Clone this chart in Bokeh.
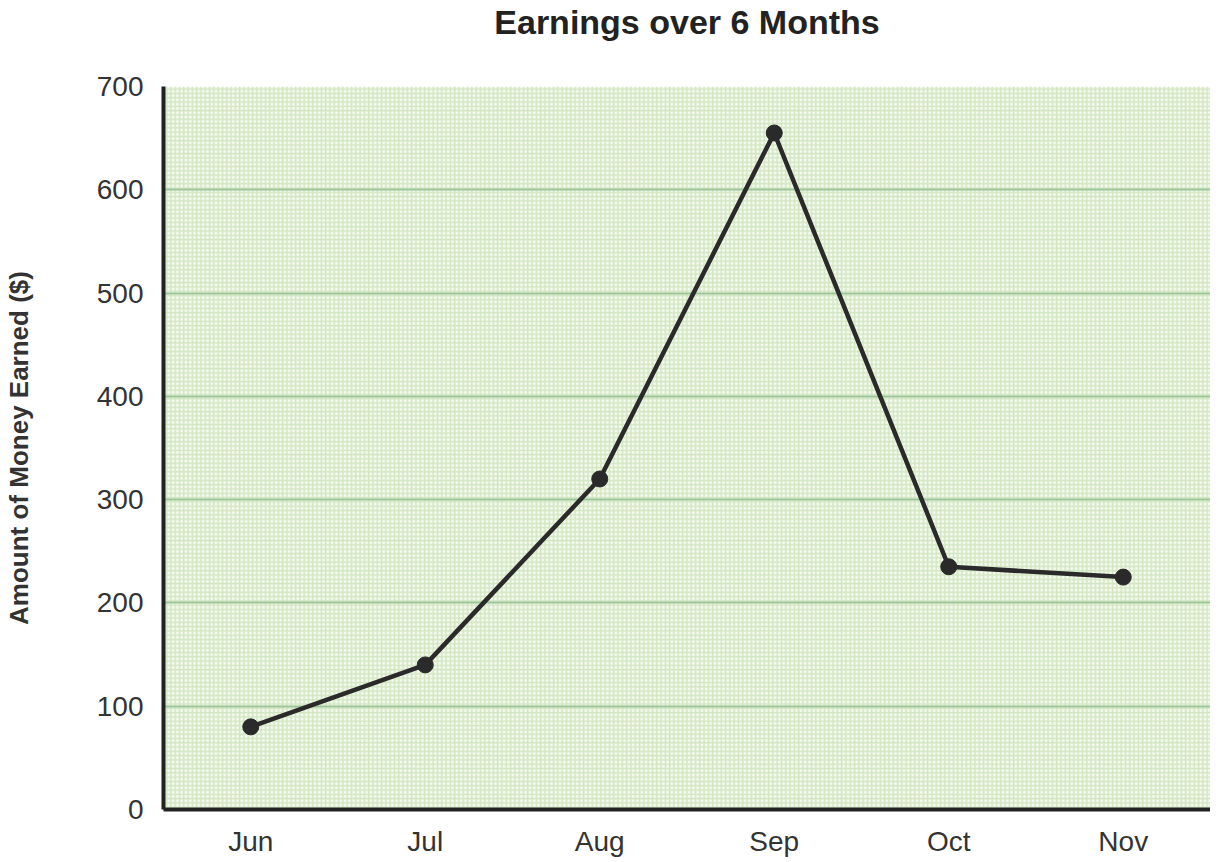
from bokeh.plotting import figure
from bokeh.models import BoxAnnotation, ColumnDataSource, SingleIntervalTicker, Range1d, Title
from bokeh.embed import file_html
from bokeh.resources import INLINE

months = ["Jun", "Jul", "Aug", "Sep", "Oct", "Nov"]
earnings = [80, 140, 320, 655, 235, 225]

title_text = "Earnings over 6 Months"
y_label = "Amount of Money Earned ($)"

src = ColumnDataSource(dict(month=months, value=earnings))

p = figure(x_range=months, y_range=Range1d(0, 700),
           frame_width=1047, frame_height=723,
           output_backend="svg", toolbar_location=None,
           min_border_left=158, min_border_right=0, min_border_top=86, min_border_bottom=36)
p.x_range.range_padding = 0

p.title.text = title_text
p.title.align = "center"
p.title.text_font = "Liberation Sans"
p.title.text_font_size = "34px"
p.title.text_font_style = "bold"
p.title.text_color = "#222222"
p.title.standoff = 0

spacer = Title(text=" ", text_font_size="10px", standoff=33)
p.add_layout(spacer, "above")

p.outline_line_color = None
p.background_fill_color = "#ffffff"
p.border_fill_color = "#ffffff"

bg = BoxAnnotation(fill_color="#f6faf2", fill_alpha=1.0, line_alpha=0,
                   hatch_pattern="+", hatch_color="#d2e7c1", hatch_scale=4.3,
                   hatch_weight=1.6, level="image")
p.add_layout(bg)

p.xgrid.visible = False
p.ygrid.grid_line_color = "#9cc599"
p.ygrid.grid_line_width = 2
p.ygrid.level = "underlay"

p.yaxis.ticker = SingleIntervalTicker(interval=100, num_minor_ticks=0)
for ax in (p.xaxis[0], p.yaxis[0]):
    ax.axis_line_color = "#222222"
    ax.axis_line_width = 4
    ax.major_tick_line_color = None
    ax.minor_tick_line_color = None
    ax.major_label_text_font = "Liberation Sans"
    ax.major_label_text_font_size = "28px"
    ax.major_label_text_color = "#333333"

p.yaxis.major_label_standoff = 14
p.xaxis.major_label_standoff = 10
p.yaxis.axis_label = y_label
p.yaxis.axis_label_text_font = "Liberation Sans"
p.yaxis.axis_label_text_font_size = "26px"
p.yaxis.axis_label_text_font_style = "bold"
p.yaxis.axis_label_text_color = "#333333"
p.yaxis.axis_label_standoff = 60

p.line("month", "value", source=src, line_color="#2a2a2a", line_width=4.5)
p.scatter("month", "value", source=src, size=16, fill_color="#2a2a2a", line_color="#2a2a2a")

open("out.html", "w").write(file_html(p, INLINE))
